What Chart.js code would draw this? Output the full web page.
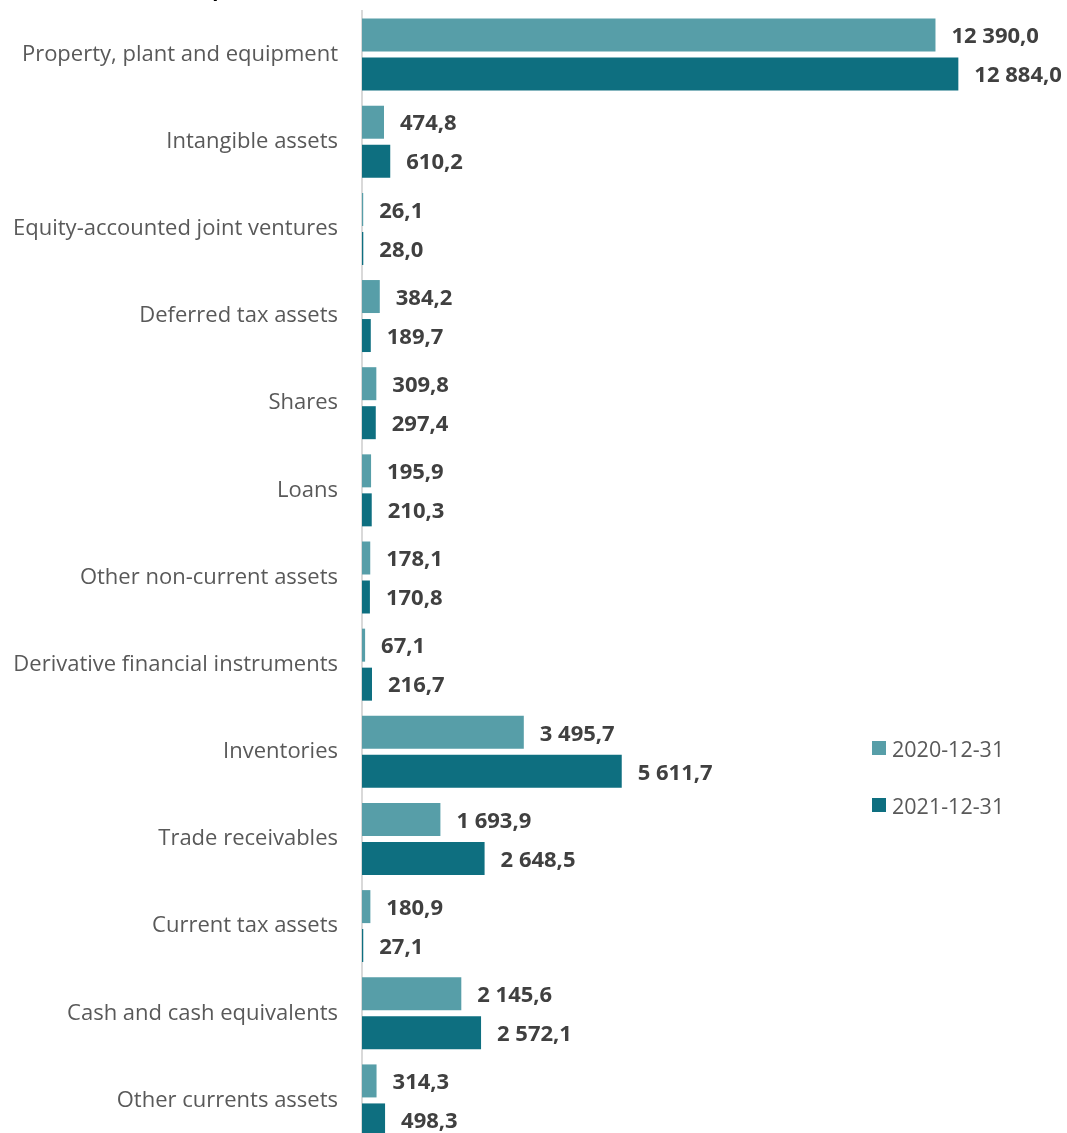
<!DOCTYPE html>
<html>
<head>
<meta charset="utf-8">
<script src="https://cdn.jsdelivr.net/npm/chart.js@4.4.1/dist/chart.umd.min.js"></script>
<style>
  html, body { margin: 0; padding: 0; background: #fff; overflow: hidden; }
  #wrap { position: relative; width: 1067px; height: 1150px; }
  #legend { position: absolute; left: 872px; top: 734px; font-family: "Open Sans", "Noto Sans", sans-serif; font-size: 21.5px; color: #595959; }
  .item { display: flex; align-items: center; height: 28px; margin-bottom: 29px; }
  .sw { width: 14px; height: 14px; margin-right: 6px; }
</style>
</head>
<body>
<div id="wrap">
  <canvas id="c"></canvas>
  <div id="legend"></div>
</div>
<script>
// data
const categories = [
    "Property, plant and equipment",
    "Intangible assets",
    "Equity-accounted joint ventures",
    "Deferred tax assets",
    "Shares",
    "Loans",
    "Other non-current assets",
    "Derivative financial instruments",
    "Inventories",
    "Trade receivables",
    "Current tax assets",
    "Cash and cash equivalents",
    "Other currents assets",
];
const seriesNames = ["2020-12-31", "2021-12-31"];
const values2020 = [12390.0, 474.8, 26.1, 384.2, 309.8, 195.9, 178.1, 67.1, 3495.7, 1693.9, 180.9, 2145.6, 314.3];
const values2021 = [12884.0, 610.2, 28.0, 189.7, 297.4, 210.3, 170.8, 216.7, 5611.7, 2648.5, 27.1, 2572.1, 498.3];
const colors = ["#579ea8", "#0e6f80"];
const titleText = "Assets Group (MSEK)";

const FONT = '"Open Sans", "Noto Sans", sans-serif';

function fmt(v) {
    const parts = v.toFixed(1).split(".");
    return parts[0].replace(/\B(?=(\d{3})+(?!\d))/g, " ") + "," + parts[1];
}

// value labels next to each bar
const valueLabels = {
    id: "valueLabels",
    afterDatasetsDraw(chart) {
        const ctx = chart.ctx;
        ctx.save();
        ctx.font = "bold 22px " + FONT;
        ctx.fillStyle = "#404040";
        ctx.textAlign = "left";
        ctx.textBaseline = "middle";
        chart.data.datasets.forEach((ds, i) => {
            const meta = chart.getDatasetMeta(i);
            meta.data.forEach((bar, j) => {
                ctx.fillText(fmt(ds.data[j]), bar.x + 16, bar.y + 2);
            });
        });
        ctx.restore();
    },
};

// title, mostly cut off at the top edge in the source
const clippedTitle = {
    id: "clippedTitle",
    afterDraw(chart) {
        const ctx = chart.ctx;
        ctx.save();
        ctx.font = "bold 20px " + FONT;
        ctx.fillStyle = "#000";
        ctx.textAlign = "right";
        ctx.textBaseline = "alphabetic";
        ctx.fillText(titleText, 298, -4);
        ctx.restore();
    },
};

new Chart(document.getElementById("c"), {
    type: "bar",
    data: {
        labels: categories,
        datasets: [
            { label: seriesNames[0], data: values2020, backgroundColor: colors[0] },
            { label: seriesNames[1], data: values2021, backgroundColor: colors[1] },
        ],
    },
    options: {
        indexAxis: "y",
        responsive: true,
        maintainAspectRatio: false,
        animation: false,
        categoryPercentage: 0.895,
        barPercentage: 0.846,
        layout: { padding: { top: 11, bottom: 6, left: 0, right: 57 } },
        plugins: { legend: { display: false }, tooltip: { enabled: false } },
        scales: {
            x: { display: false, min: 0, max: 14000 },
            y: {
                afterFit: (s) => {
                    s.width = 362;
                    s.paddingTop = 0;
                    s.paddingBottom = 0;
                },
                grid: { display: false, drawTicks: false },
                border: { display: true, color: "#d9d9d9", width: 2 },
                ticks: {
                    padding: 24,
                    color: "#595959",
                    font: { family: FONT, size: 22 },
                },
            },
        },
    },
    plugins: [valueLabels, clippedTitle],
});

// legend
const legendEl = document.getElementById("legend");
seriesNames.forEach((name, i) => {
    const row = document.createElement("div");
    row.className = "item";
    row.innerHTML = '<span class="sw" style="background:' + colors[i] + '"></span>' + name;
    legendEl.appendChild(row);
});
</script>
</body>
</html>
